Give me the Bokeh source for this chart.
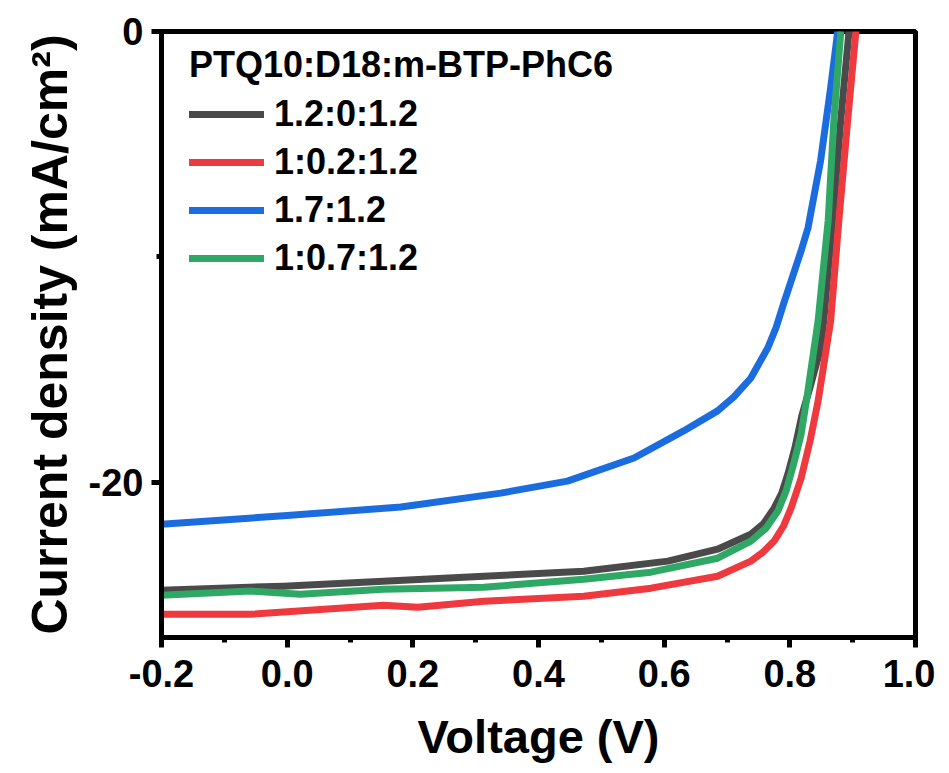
from bokeh.plotting import figure
from bokeh.models import Range1d, Legend, LegendItem, SingleIntervalTicker, NumeralTickFormatter
from bokeh.embed import file_html
from bokeh.resources import INLINE

# ---- data ----
series_names = ["1.2:0:1.2", "1:0.2:1.2", "1.7:1.2", "1:0.7:1.2"]
series_colors = ["#4a4a4a", "#ee3a3f", "#1b6ddf", "#2fa865"]

gray_v = [-0.20, -0.006, 0.153, 0.313, 0.472, 0.606, 0.685, 0.738, 0.758, 0.775, 0.787, 0.797, 0.808, 0.819, 0.834, 0.848, 0.854, 0.868, 0.881, 0.894, 0.897]
gray_j = [-24.80, -24.62, -24.40, -24.18, -23.96, -23.51, -22.98, -22.31, -21.85, -21.16, -20.50, -19.64, -18.50, -17.07, -15.60, -14.18, -12.84, -8.40, -3.96, -0.04, 0.6]

red_v = [-0.20, -0.058, 0.153, 0.208, 0.313, 0.472, 0.579, 0.685, 0.738, 0.757, 0.775, 0.790, 0.802, 0.818, 0.832, 0.845, 0.865, 0.878, 0.892, 0.905, 0.908]
red_j = [-25.87, -25.87, -25.47, -25.56, -25.29, -25.07, -24.71, -24.18, -23.51, -23.12, -22.62, -21.95, -21.16, -19.82, -18.20, -16.40, -12.84, -8.40, -3.96, -0.04, 0.6]

blue_v = [-0.20, -0.006, 0.181, 0.340, 0.446, 0.552, 0.631, 0.685, 0.711, 0.738, 0.765, 0.778, 0.790, 0.818, 0.829, 0.849, 0.865, 0.876, 0.879]
blue_j = [-21.87, -21.50, -21.11, -20.49, -19.96, -18.93, -17.73, -16.84, -16.22, -15.38, -14.04, -13.15, -12.09, -9.73, -8.71, -5.73, -2.49, -0.04, 0.6]

green_v = [-0.20, -0.058, 0.021, 0.153, 0.313, 0.472, 0.579, 0.685, 0.738, 0.762, 0.781, 0.794, 0.806, 0.818, 0.828, 0.838, 0.845, 0.861, 0.870, 0.881, 0.884]
green_j = [-25.02, -24.84, -24.98, -24.76, -24.67, -24.31, -24.00, -23.38, -22.62, -22.05, -21.29, -20.40, -19.20, -17.87, -16.10, -14.18, -12.84, -8.40, -3.96, -0.04, 0.6]

legend_title = "PTQ10:D18:m-BTP-PhC6"
x_label = "Voltage (V)"
y_label = "Current density (mA/cm\u00b2)"

FONT = "Liberation Sans"

p = figure(frame_width=754, frame_height=606,
           x_range=Range1d(-0.2, 1.0), y_range=Range1d(-26.9, 0),
           output_backend="svg", toolbar_location=None,
           min_border_left=161, min_border_right=20, min_border_top=31, min_border_bottom=100)

p.grid.visible = False
p.outline_line_color = "black"
p.outline_line_width = 5

data = [(gray_v, gray_j), (red_v, red_j), (blue_v, blue_j), (green_v, green_j)]
items = []
for (vv, jj), name, col in zip(data, series_names, series_colors):
    r = p.line(vv, jj, line_color=col, line_width=7, line_cap="round", line_join="round")
    items.append(LegendItem(label=name, renderers=[r]))

legend = Legend(items=items, location=(20, 350), title=legend_title,
                title_text_font=FONT, title_text_font_style="bold", title_text_font_size="36px",
                title_text_color="black", title_standoff=7,
                label_text_font=FONT, label_text_font_style="bold", label_text_font_size="36px",
                label_text_color="black",
                glyph_width=75, glyph_height=40, label_height=40, spacing=6, label_standoff=10,
                border_line_alpha=0, background_fill_alpha=0, margin=0, padding=8)
p.add_layout(legend)

p.xaxis.ticker = SingleIntervalTicker(interval=0.2, num_minor_ticks=2)
p.xaxis.formatter = NumeralTickFormatter(format="0.0")
p.yaxis.ticker = SingleIntervalTicker(interval=20, num_minor_ticks=2)
p.yaxis.formatter = NumeralTickFormatter(format="0")

for ax in (p.xaxis, p.yaxis):
    ax.axis_line_width = 5
    ax.axis_line_color = "black"
    ax.major_tick_line_width = 5
    ax.minor_tick_line_width = 5
    ax.major_tick_out = 10
    ax.major_tick_in = 0
    ax.minor_tick_out = 5
    ax.minor_tick_in = 0
    ax.major_label_text_font = FONT
    ax.major_label_text_font_style = "bold"
    ax.major_label_text_font_size = "38px"
    ax.major_label_text_color = "black"
    ax.axis_label_text_font = FONT
    ax.axis_label_text_font_style = "bold"
    ax.axis_label_text_color = "black"

p.xaxis.axis_label_text_font_size = "47px"
p.yaxis.axis_label_text_font_size = "50px"
p.xaxis.axis_label = x_label
p.yaxis.axis_label = y_label
p.xaxis.major_label_standoff = 12
p.yaxis.major_label_standoff = 8
p.xaxis.axis_label_standoff = 20
p.yaxis.axis_label_standoff = 8

open("out.html", "w").write(file_html(p, INLINE))
